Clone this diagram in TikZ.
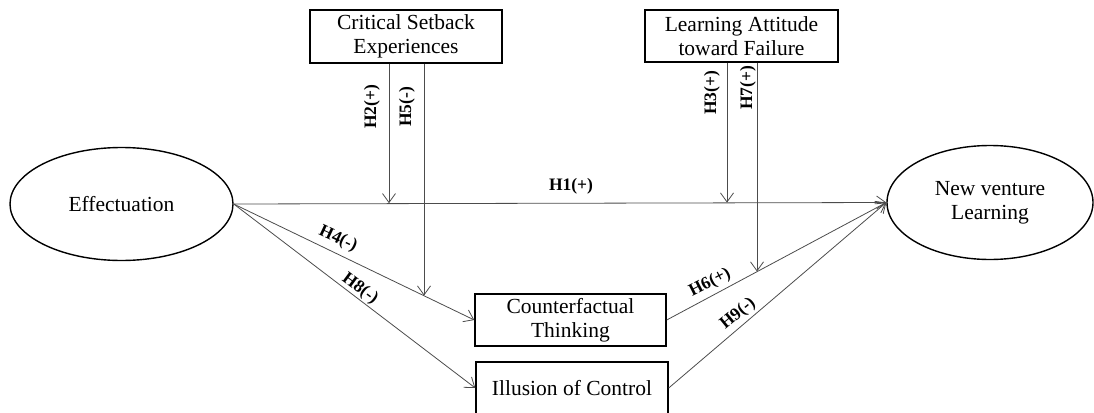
\documentclass[tikz,border=0pt]{standalone}
\usepackage{fontspec}
\setmainfont{Liberation Serif}
\usetikzlibrary{shapes.geometric,arrows.meta}
\tikzset{
  ovalnode/.style={draw=black,line width=1.4pt,ellipse,inner sep=0pt,align=center,font=\fontsize{21.5}{24}\selectfont},
  boxnode/.style={draw=black,line width=1.4pt,rectangle,inner sep=0pt,align=center,font=\fontsize{21.5}{24}\selectfont},
  conn/.style={draw=black!70,line width=0.8pt,-{Straight Barb[length=9pt,width=13pt,line width=0.8pt]}},
  hlabel/.style={font=\fontsize{17.5}{19}\selectfont\bfseries,inner sep=0pt}
}
\begin{document}
\begin{tikzpicture}[x=1pt,y=-1pt]
\useasboundingbox (0,0) rectangle (1094,412);
\node[ovalnode,minimum width=223pt,minimum height=113pt] (e) at (121.5,204) {Effectuation};
\node[ovalnode,minimum width=206pt,minimum height=114pt] (n) at (990,202.5) {New venture\\Learning};
\node[boxnode,minimum width=192pt,minimum height=53pt] (csb) at (406,36.5) {Critical Setback\\Experiences};
\node[boxnode,minimum width=193pt,minimum height=52pt] (la) at (741.5,36) {Learning Attitude\\toward Failure};
\node[boxnode,minimum width=191pt,minimum height=52pt] (cf) at (570.5,320) {Counterfactual\\Thinking};
\node[boxnode,minimum width=192pt,minimum height=52pt] (ic) at (572,388) {Illusion of Control};
% main paths
\draw[conn] (e.east) -- (n.west);
\draw[conn] (e.east) -- (cf.west);
\draw[conn] (e.east) -- (ic.west);
\draw[conn] (cf.east) -- (n.west);
\draw[conn] (ic.east) -- (n.west);
% moderator arrows
\coordinate (h2end) at (389,203.2);
\coordinate (h5end) at (424,295.6);
\coordinate (h3end) at (727,202.6);
\coordinate (h7end) at (757,271.5);
\draw[conn] (csb.south -| h2end) -- (h2end);
\draw[conn] (csb.south -| h5end) -- (h5end);
\draw[conn] (la.south -| h3end) -- (h3end);
\draw[conn] (la.south -| h7end) -- (h7end);
% labels
\node[hlabel] (l1) at (571,186) {H1(+)};
\node[hlabel,rotate=90] (l2) at (372,107) {H2(+)};
\node[hlabel,rotate=90] (l5) at (407,107) {H5(-)};
\node[hlabel,rotate=90] (l3) at (712,93) {H3(+)};
\node[hlabel,rotate=90] (l7) at (748,88) {H7(+)};
\node[hlabel,rotate=-25] (l4) at (338,239) {H4(-)};
\node[hlabel,rotate=-36.5] (l8) at (360,289) {H8(-)};
\node[hlabel,rotate=27] (l6) at (710,283) {H6(+)};
\node[hlabel,rotate=39.5] (l9) at (738,314) {H9(-)};
\end{tikzpicture}
\end{document}
